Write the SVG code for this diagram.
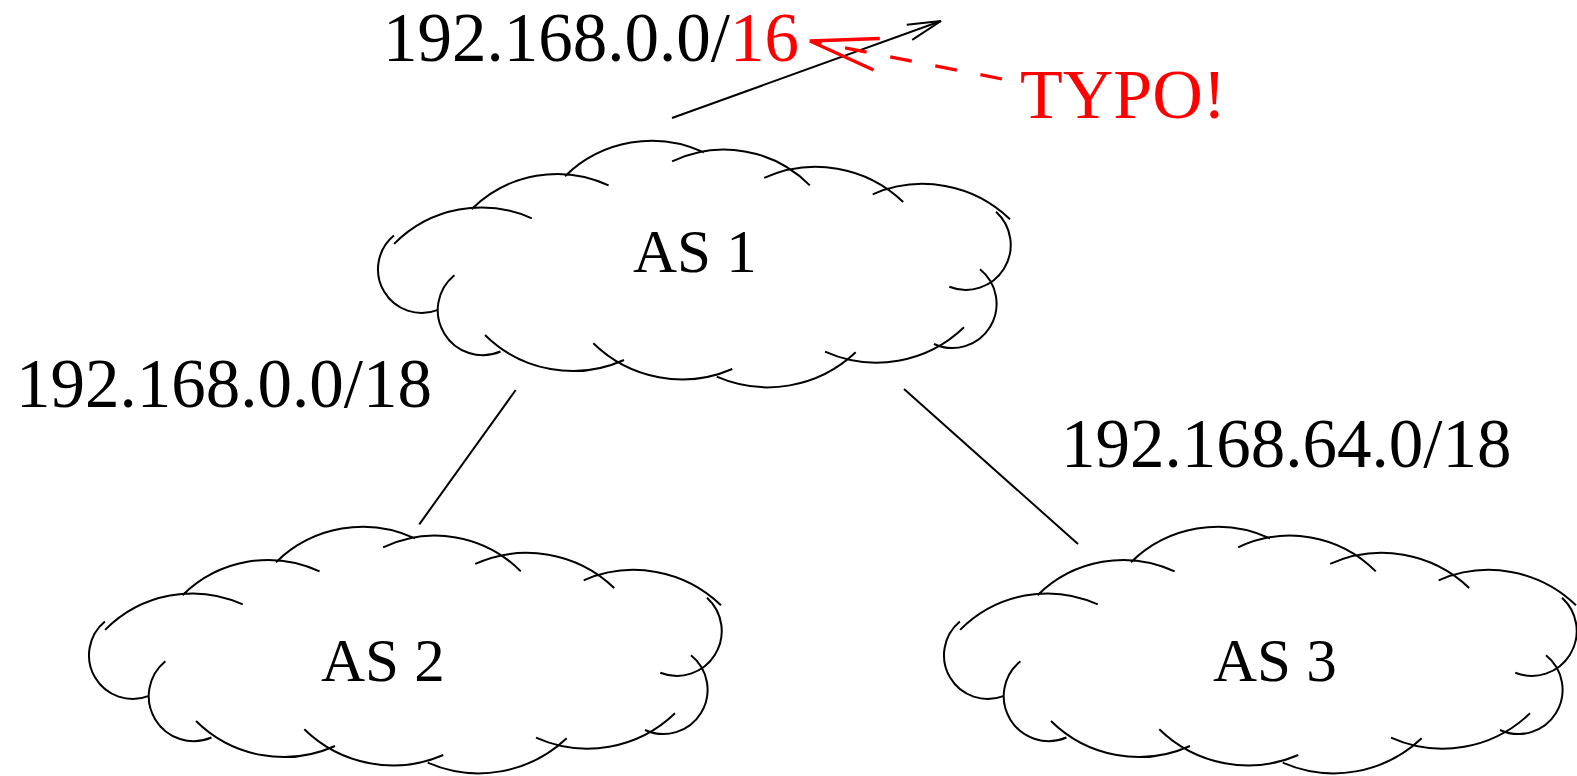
<svg xmlns="http://www.w3.org/2000/svg" xmlns:xlink="http://www.w3.org/1999/xlink" width="1577" height="776" viewBox="0 0 1577 776">
  <style>
    .bg { fill: #ffffff; }
    .cloud { fill: none; stroke: #000; stroke-width: 2; }
    .link { fill: none; stroke: #000; stroke-width: 2; }
    .lbl { font-family: "Liberation Serif", "Times New Roman", serif; fill: #000; }
    .ip { font-size: 69px; }
    .as { font-size: 61px; }
    .red { fill: #ff0000; }
    .note { fill: none; stroke: #ff0000; stroke-width: 3.3; stroke-dasharray: 22 24; }
  </style>
  <defs>
    <!-- scalloped cloud outline built from overlapping circular arcs -->
    <path id="cloud" d="M394.1,243.9 A122.5,122.5 0 0 1 531.8,218.4
      M471.6,209.2 A121.7,121.7 0 0 1 608.6,185.4
      M565,176.2 A123.7,123.7 0 0 1 704.1,152.4
      M672.1,161.4 A120.5,120.5 0 0 1 809.8,185.4
      M764.2,177.9 A126.4,126.4 0 0 1 903.2,202
      M872.7,194.3 A125.7,125.7 0 0 1 1010,219.3
      M996,211.7 A44.9,44.9 0 0 1 949.3,286.7
      M980,269.3 A44.2,44.2 0 0 1 934,344
      M964,327.3 A126,126 0 0 1 825,351.7
      M855.7,352.3 A128,128 0 0 1 716.7,376.7
      M732.3,369 A126.9,126.9 0 0 1 593.3,343.3
      M624,360 A124.8,124.8 0 0 1 485,335
      M500.5,351.5 A45,45 0 0 1 454.4,275.2
      M437.9,309.9 A43.7,43.7 0 0 1 393.9,235.6"/>
    <marker id="openArrow" markerUnits="userSpaceOnUse" orient="auto" overflow="visible" markerWidth="1" markerHeight="1" refX="0" refY="0">
      <path d="M-33.5,-8 L0,0 L-33.5,8" fill="none" stroke="#000" stroke-width="2"/>
    </marker>
    <marker id="redArrow" markerUnits="userSpaceOnUse" orient="auto" overflow="visible" markerWidth="1" markerHeight="1" refX="0" refY="0">
      <path d="M-68,-16 L0,0 L-68,16" fill="none" stroke="#ff0000" stroke-width="3.3" stroke-dasharray="none"/>
    </marker>
  </defs>

  <rect class="bg" x="0" y="0" width="1577" height="776"/>

  <g id="connectors">
    <line class="link" x1="672" y1="118" x2="941" y2="21" marker-end="url(#openArrow)"/>
    <line class="link" x1="515.7" y1="390" x2="419.3" y2="524.3"/>
    <line class="link" x1="904" y1="389" x2="1078" y2="544"/>
    <line class="note" x1="1002" y1="79" x2="810" y2="41" marker-end="url(#redArrow)"/>
  </g>

  <g id="as1">
    <use xlink:href="#cloud" href="#cloud" class="cloud"/>
    <text class="lbl as" x="633" y="272">AS 1</text>
  </g>

  <g id="as2">
    <use xlink:href="#cloud" href="#cloud" class="cloud" transform="translate(-289,386)"/>
    <text class="lbl as" x="321" y="681">AS 2</text>
  </g>

  <g id="as3">
    <use xlink:href="#cloud" href="#cloud" class="cloud" transform="translate(566,386)"/>
    <text class="lbl as" x="1213" y="681">AS 3</text>
  </g>

  <g id="labels">
    <text class="lbl ip" x="383" y="61">192.168.0.0/<tspan class="red">16</tspan></text>
    <text class="lbl ip" x="16" y="407">192.168.0.0/18</text>
    <text class="lbl ip" x="1061" y="467">192.168.64.0/18</text>
    <text class="lbl red" x="1020" y="118" font-size="70">TYPO!</text>
  </g>
</svg>
